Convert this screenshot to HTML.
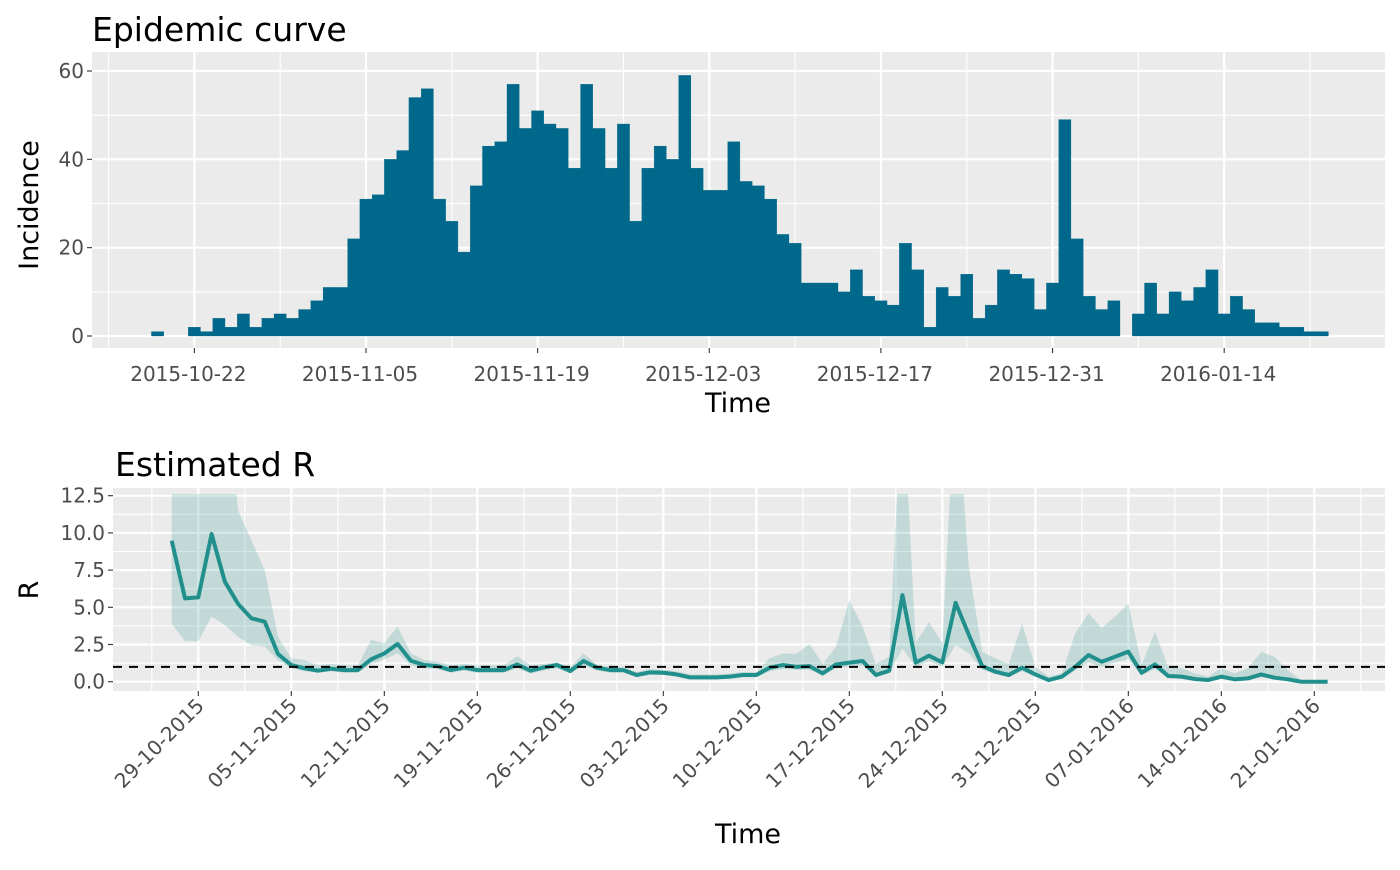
<!DOCTYPE html>
<html><head><meta charset="utf-8"><style>
body{margin:0;background:#fff;}
svg{font-family:"DejaVu Sans","Liberation Sans",sans-serif;}
</style></head><body>
<svg id="chart" width="1400" height="865" xmlns="http://www.w3.org/2000/svg">
<defs><clipPath id="clipR"><rect x="113" y="494" width="1272" height="197"/></clipPath></defs>
<g id="topPanel"></g>
<g id="botPanel"></g>
</svg>
<script>
const incStart = "2015-10-19";
const incidence = [1,0,0,2,1,4,2,5,2,4,5,4,6,8,11,11,22,31,32,40,42,54,56,31,26,19,34,43,44,57,47,51,48,47,38,
57,47,38,48,26,38,43,40,59,38,33,33,44,35,34,31,23,21,12,12,12,10,15,9,8,7,21,15,2,11,9,14,
4,7,15,14,13,6,12,49,22,9,6,8,0,5,12,5,10,8,11,15,5,9,6,3,3,2,2,1,1];
const incTicks = ["2015-10-22","2015-11-05","2015-11-19","2015-12-03","2015-12-17","2015-12-31","2016-01-14"];
const incYTicks = [0,20,40,60];

const rStart = "2015-10-27";
const rMean = [9.48,5.6,5.67,9.92,6.72,5.22,4.26,4.03,1.86,1.12,0.9,0.74,0.87,0.78,0.78,1.5,1.9,2.53,1.41,1.12,1.05,0.78,0.94,0.78,0.78,0.78,1.16,0.74,
0.96,1.12,0.72,1.39,0.94,0.78,0.78,0.45,0.63,0.6,0.49,0.29,0.29,0.29,0.34,0.45,0.45,0.94,1.12,1.0,1.05,0.56,1.16,1.28,1.39,0.45,0.74,
5.82,1.28,1.75,1.3,5.3,3.14,1.05,0.67,0.45,0.94,0.49,0.11,0.34,1.0,1.79,1.34,1.68,2.02,0.6,1.16,0.38,0.34,0.18,0.11,0.34,0.16,0.22,0.49,0.27,0.16,0,0,0];
const rLower = [3.9,2.73,2.73,4.37,3.8,3.0,2.46,2.35,1.45,0.9,0.7,0.6,0.7,0.6,0.6,1.2,1.5,1.9,1.1,0.9,0.85,0.6,0.75,0.6,0.6,0.6,0.9,0.55,
0.75,0.9,0.55,1.1,0.75,0.6,0.6,0.3,0.45,0.45,0.35,0.15,0.15,0.15,0.2,0.3,0.3,0.7,0.85,0.8,0.8,0.4,0.9,1.0,1.1,0.3,0.55,
2.24,1.0,1.4,1.0,2.46,1.9,0.8,0.5,0.3,0.7,0.35,0.05,0.2,0.75,1.3,1.0,1.3,1.5,0.45,0.85,0.25,0.2,0.1,0.05,0.2,0.08,0.12,0.3,0.15,0.08,0,0,0];
const rUpper = [20,20,20,20,20,11.5,9.5,7.5,3.0,1.57,1.45,1.1,1.2,1.1,1.1,2.8,2.6,3.7,1.9,1.45,1.35,1.1,1.2,1.1,1.1,1.1,1.72,1.1,
1.2,1.3,1.0,1.9,1.15,1.0,1.0,0.65,0.85,0.8,0.7,0.5,0.5,0.5,0.55,0.65,0.65,1.57,1.9,1.86,2.53,1.2,2.35,5.5,3.7,1.2,1.68,
20,2.6,4.0,2.6,20,7.7,2.0,1.57,1.2,3.9,1.0,0.34,0.56,3.25,4.6,3.6,4.37,5.26,1.12,3.36,1.0,0.9,0.56,0.34,0.9,0.56,0.9,2.0,1.68,0.78,0.11,0,0];
const rTicks = ["29-10-2015","05-11-2015","12-11-2015","19-11-2015","26-11-2015","03-12-2015","10-12-2015","17-12-2015","24-12-2015","31-12-2015","07-01-2016","14-01-2016","21-01-2016"];
const rYTicks = [0,2.5,5,7.5,10,12.5];
const rYLabels = ["0.0","2.5","5.0","7.5","10.0","12.5"];

const NS="http://www.w3.org/2000/svg";
function mk(parent,tag,attrs,text){const e=document.createElementNS(NS,tag);for(const k in attrs)e.setAttribute(k,attrs[k]);if(text!==undefined)e.textContent=text;parent.appendChild(e);return e;}
const DAY=86400000;
function d2n(s){return Date.UTC(+s.slice(0,4),+s.slice(5,7)-1,+s.slice(8,10))/DAY;}
function dmy2n(s){return Date.UTC(+s.slice(6,10),+s.slice(3,5)-1,+s.slice(0,2))/DAY;}
const TICKFS=20, TITLEFS=33, AXFS=27;

// ---------- TOP PANEL ----------
const topG=document.getElementById('topPanel');
const T={l:92,r:1385,t:52,b:348};
const tRef=d2n("2015-11-05"), tPx=12.26, tX0=366;
const tx=n=>tX0+(n-tRef)*tPx;
const ty=v=>336-v*(265/60);
let e=mk(topG,'rect',{x:T.l,y:T.t,width:T.r-T.l,height:T.b-T.t,fill:'#ebebeb'});


[10,30,50].forEach(v=>{const l=mk(topG,'line',{x1:T.l,x2:T.r,y1:ty(v),y2:ty(v),stroke:'#fff','stroke-width':1.1});

});
incYTicks.forEach(v=>{const l=mk(topG,'line',{x1:T.l,x2:T.r,y1:ty(v),y2:ty(v),stroke:'#fff','stroke-width':2.2});

});
const t0=d2n(incTicks[0]);
for(let n=t0-7;tx(n)<T.r;n+=14){if(tx(n)>T.l){const l=mk(topG,'line',{x1:tx(n),x2:tx(n),y1:T.t,y2:T.b,stroke:'#fff','stroke-width':1.1});

}}
incTicks.forEach(s=>{const x=tx(d2n(s));const l=mk(topG,'line',{x1:x,x2:x,y1:T.t,y2:T.b,stroke:'#fff','stroke-width':2.2});

});
const iS=d2n(incStart);
incidence.forEach((v,i)=>{if(v<=0)return;const n=iS+i;const b=mk(topG,'rect',{x:tx(n)-tPx/2,y:ty(v),width:tPx,height:ty(0)-ty(v),fill:'#00688a',stroke:'#00688a','stroke-width':0.3});

});
incYTicks.forEach(v=>{const l=mk(topG,'line',{x1:T.l-5,x2:T.l,y1:ty(v),y2:ty(v),stroke:'#333','stroke-width':1.1});


const t=mk(topG,'text',{x:T.l-8,y:ty(v)+7,'text-anchor':'end','font-size':TICKFS,fill:'#4d4d4d'},String(v));

});
incTicks.forEach(s=>{const x=tx(d2n(s));const l=mk(topG,'line',{x1:x,x2:x,y1:T.b,y2:T.b+5,stroke:'#333','stroke-width':1.1});


const t=mk(topG,'text',{x:x-6,y:T.b+33,'text-anchor':'middle','font-size':TICKFS,fill:'#4d4d4d'},s);

});
e=mk(topG,'text',{x:92,y:41,'font-size':TITLEFS,fill:'#000'},'Epidemic curve');


e=mk(topG,'text',{x:738,y:412,'text-anchor':'middle','font-size':AXFS,fill:'#000'},'Time');


e=mk(topG,'text',{x:38,y:205,'text-anchor':'middle','font-size':AXFS,fill:'#000',transform:'rotate(-90 38 205)'},'Incidence');



// ---------- BOTTOM PANEL ----------
const botG=document.getElementById('botPanel');
const B={l:113,r:1385,t:488,b:691};
const bRef=dmy2n("29-10-2015"), bPx=13.286, bX0=198.3;
const bx=n=>bX0+(n-bRef)*bPx;
const by=v=>681.7-v*14.88;
e=mk(botG,'rect',{x:B.l,y:B.t,width:B.r-B.l,height:B.b-B.t,fill:'#ebebeb'});


[1.25,3.75,6.25,8.75,11.25].forEach(v=>{const l=mk(botG,'line',{x1:B.l,x2:B.r,y1:by(v),y2:by(v),stroke:'#fff','stroke-width':1.1});

});
rYTicks.forEach(v=>{const l=mk(botG,'line',{x1:B.l,x2:B.r,y1:by(v),y2:by(v),stroke:'#fff','stroke-width':2.2});

});
const b0=dmy2n(rTicks[0]);
for(let n=b0-3.5;bx(n)<B.r;n+=7){if(bx(n)>B.l){const l=mk(botG,'line',{x1:bx(n),x2:bx(n),y1:B.t,y2:B.b,stroke:'#fff','stroke-width':1.1});

}}
rTicks.forEach(s=>{const x=bx(dmy2n(s));const l=mk(botG,'line',{x1:x,x2:x,y1:B.t,y2:B.b,stroke:'#fff','stroke-width':2.2});

});
const rS=d2n(rStart);
const clipG=mk(botG,'g',{'clip-path':'url(#clipR)'});


let up=rUpper.map((v,i)=>bx(rS+i).toFixed(2)+','+by(v).toFixed(2));
let lo=rLower.map((v,i)=>bx(rS+i).toFixed(2)+','+by(v).toFixed(2)).reverse();
e=mk(clipG,'polygon',{points:up.concat(lo).join(' '),fill:'#21908c','fill-opacity':0.2});


e=mk(clipG,'polyline',{points:rMean.map((v,i)=>bx(rS+i).toFixed(2)+','+by(v).toFixed(2)).join(' '),fill:'none',stroke:'#21908c','stroke-width':4,'stroke-linejoin':'round'});


e=mk(botG,'line',{x1:B.l,x2:B.r,y1:by(1),y2:by(1),stroke:'#000','stroke-width':2,'stroke-dasharray':'9,7'});


rYTicks.forEach((v,i)=>{const l=mk(botG,'line',{x1:B.l-5,x2:B.l,y1:by(v),y2:by(v),stroke:'#333','stroke-width':1.1});


const t=mk(botG,'text',{x:B.l-8,y:by(v)+7,'text-anchor':'end','font-size':TICKFS,fill:'#4d4d4d'},rYLabels[i]);

});
rTicks.forEach(s=>{const x=bx(dmy2n(s));const l=mk(botG,'line',{x1:x,x2:x,y1:B.b,y2:B.b+5,stroke:'#333','stroke-width':1.1});


const ax=x+7, ay=B.b+16;
const t=mk(botG,'text',{x:ax,y:ay,'text-anchor':'end','font-size':TICKFS,fill:'#4d4d4d',transform:'rotate(-45 '+ax+' '+ay+')'},s);

});
e=mk(botG,'text',{x:115,y:476,'font-size':TITLEFS,fill:'#000'},'Estimated R');


e=mk(botG,'text',{x:748,y:843,'text-anchor':'middle','font-size':AXFS,fill:'#000'},'Time');


e=mk(botG,'text',{x:38,y:590,'text-anchor':'middle','font-size':AXFS,fill:'#000',transform:'rotate(-90 38 590)'},'R');


</script>
</body></html>
